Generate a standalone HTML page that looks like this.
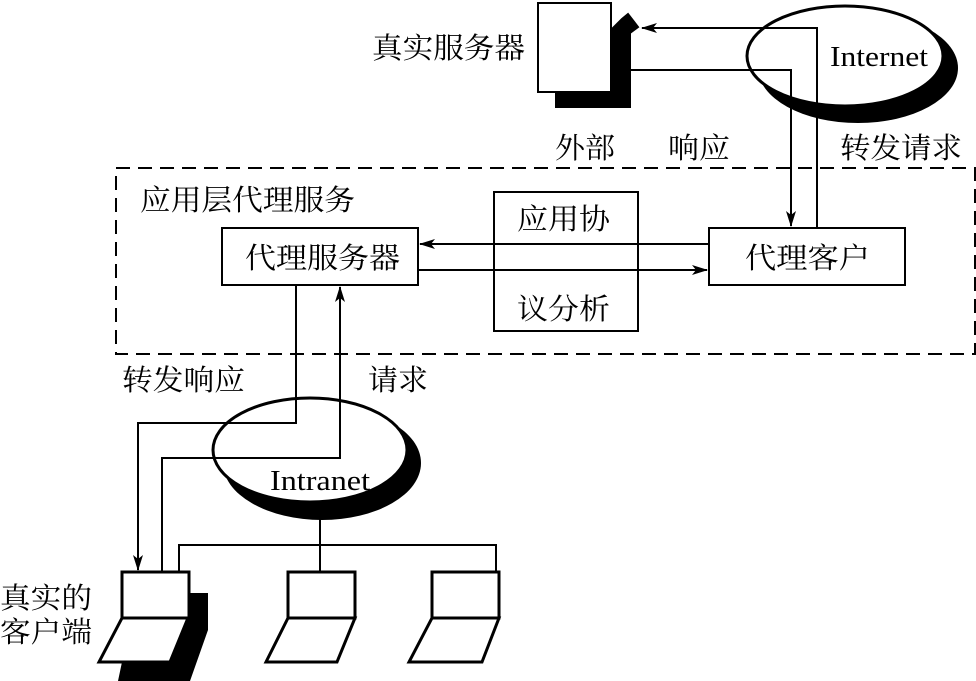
<!DOCTYPE html>
<html><head><meta charset="utf-8"><style>
html,body{margin:0;padding:0;background:#fff;}
svg{display:block;}
text{font-family:"Liberation Serif","Noto Serif CJK SC","Noto Sans CJK SC",serif;font-size:29px;fill:#000;}
</style></head><body>
<svg width="976" height="681" viewBox="0 0 976 681" xmlns="http://www.w3.org/2000/svg">
<defs>
<marker id="a" markerWidth="16" markerHeight="10" refX="15" refY="5" orient="auto" markerUnits="userSpaceOnUse">
<path d="M0,0 L16,5 L0,10 L4,5 Z" fill="#000"/></marker>
</defs>
<g stroke="#000" stroke-width="2" fill="none">
<polygon points="611,30 622,19 628,14 638,27 630,33 630,107 556,107 556,92 611,92" fill="#000"/>
<rect x="538" y="3" width="73" height="89" fill="#fff"/>
<ellipse cx="858" cy="68" rx="100" ry="55" fill="#000" stroke="none"/>
<ellipse cx="845" cy="56" rx="98" ry="50" fill="#fff" stroke-width="3"/>
<polyline points="817,228 817,28 642,28" marker-end="url(#a)"/>
<polyline points="611,70 791,70 791,226" marker-end="url(#a)"/>
<rect x="116" y="168" width="859" height="186" stroke-dasharray="14,8"/>
<rect x="494" y="192" width="144" height="139" fill="#fff"/>
<line x1="709" y1="244" x2="420" y2="244" marker-end="url(#a)"/>
<line x1="418" y1="270" x2="707" y2="270" marker-end="url(#a)"/>
<rect x="222" y="228" width="196" height="57" fill="#fff"/>
<rect x="709" y="228" width="196" height="57" fill="#fff"/>
<ellipse cx="322" cy="463" rx="99" ry="57" fill="#000" stroke="none"/>
<ellipse cx="310" cy="450" rx="97" ry="52" fill="#fff" stroke-width="3"/>
<polyline points="296,285 296,423 138,423 138,570" marker-end="url(#a)"/>
<polyline points="162,572 162,458 340,458 340,287" marker-end="url(#a)"/>
<line x1="320" y1="518" x2="320" y2="572"/>
<polyline points="179,572 179,545 496,545 496,572"/>
<polygon points="189,593 208,593 208,630 190,681 118,681 122,662 170,662 189,618" fill="#000" stroke="none"/>
<rect x="122" y="572" width="67" height="46" fill="#fff" stroke-width="3"/>
<polygon points="122,618 188,618 170,662 99,662" fill="#fff" stroke-width="3"/>
<rect x="288" y="572" width="67" height="46" fill="#fff" stroke-width="3"/>
<polygon points="288,618 355,618 337,662 266,662" fill="#fff" stroke-width="3"/>
<rect x="432" y="572" width="67" height="46" fill="#fff" stroke-width="3"/>
<polygon points="432,618 499,618 482,662 409,662" fill="#fff" stroke-width="3"/>
</g>
<text x="372" y="58" textLength="153" lengthAdjust="spacingAndGlyphs">真实服务器</text>
<text x="830" y="66" font-size="30" textLength="98" lengthAdjust="spacingAndGlyphs">Internet</text>
<text x="555" y="158" textLength="60" lengthAdjust="spacingAndGlyphs">外部</text>
<text x="668" y="158" textLength="62" lengthAdjust="spacingAndGlyphs">响应</text>
<text x="840" y="158" textLength="122" lengthAdjust="spacingAndGlyphs">转发请求</text>
<text x="140" y="210" textLength="215" lengthAdjust="spacingAndGlyphs">应用层代理服务</text>
<text x="517" y="229" textLength="93" lengthAdjust="spacingAndGlyphs">应用协</text>
<text x="517" y="319" textLength="93" lengthAdjust="spacingAndGlyphs">议分析</text>
<text x="245" y="268" textLength="155" lengthAdjust="spacingAndGlyphs">代理服务器</text>
<text x="745" y="268" textLength="125" lengthAdjust="spacingAndGlyphs">代理客户</text>
<text x="122" y="390" textLength="123" lengthAdjust="spacingAndGlyphs">转发响应</text>
<text x="368" y="390" textLength="60" lengthAdjust="spacingAndGlyphs">请求</text>
<text x="270" y="490" font-size="30" textLength="100" lengthAdjust="spacingAndGlyphs">Intranet</text>
<text x="0" y="608" textLength="92" lengthAdjust="spacingAndGlyphs">真实的</text>
<text x="0" y="642" textLength="92" lengthAdjust="spacingAndGlyphs">客户端</text>
</svg>
</body></html>
